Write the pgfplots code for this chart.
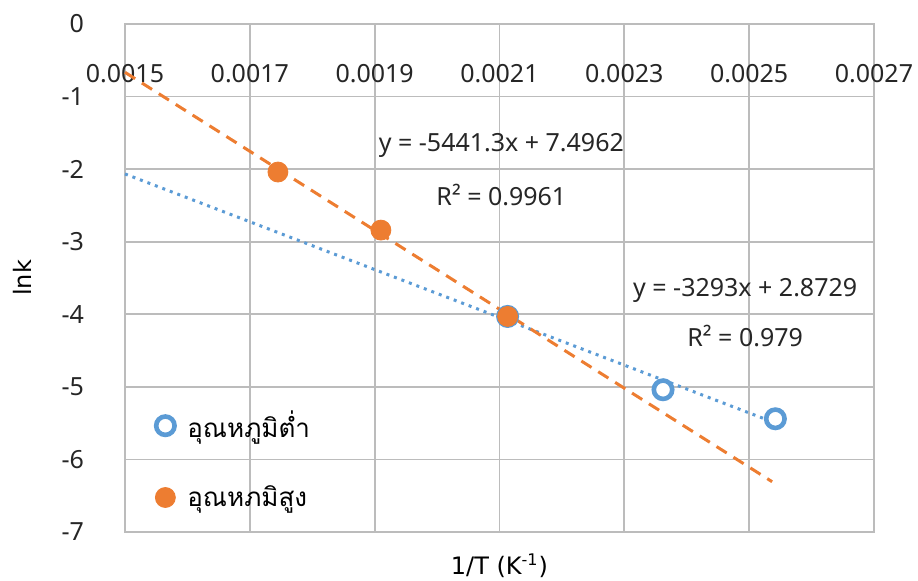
\documentclass[border=0pt]{standalone}
\usepackage{fontspec}
\setmainfont{Noto Sans}
\newfontfamily\thaifont[Script=Thai]{Loma}
\newfontfamily\labfont{DejaVu Sans}
\usepackage{pgfplots}
\pgfplotsset{compat=1.18}
\definecolor{gridc}{RGB}{188,188,188}
\definecolor{bluec}{RGB}{91,155,213}
\definecolor{orangec}{RGB}{237,125,49}
\begin{document}
\begin{tikzpicture}
\useasboundingbox (0,0) rectangle (459pt,290.5pt);
\begin{axis}[
  at={(62.5pt,24.5pt)}, anchor=south west,
  scale only axis, width=374.5pt, height=254pt,
  xmin=0.0015, xmax=0.0027, ymin=-7, ymax=0,
  xtick={0.0015,0.0017,0.0019,0.0021,0.0023,0.0025,0.0027},
  ytick={-7,-6,-5,-4,-3,-2,-1,0},
  scaled x ticks=false,
  grid=major, major grid style={draw=gridc, line width=0.9pt},
  axis line style={draw=gridc, line width=0.9pt},
  major tick length=0pt,
  xticklabel pos=upper,
  /pgf/number format/assume math mode=true,
  tick label style={font=\fontsize{12.5}{15}\selectfont, text=black!85},
  x tick label style={/pgf/number format/.cd, fixed, fixed zerofill, precision=4, /tikz/.cd, anchor=north, yshift=-16.5pt},
  y tick label style={xshift=-17pt},
  xlabel={1/T (K\textsuperscript{-1})},
  ylabel={lnk},
  xlabel style={at={(axis description cs:0.5,-0.066)}, anchor=center, font=\labfont\fontsize{12}{14}\selectfont},
  ylabel style={at={(axis description cs:-0.1375,0.5)}, anchor=center, font=\labfont\fontsize{12}{14}\selectfont},
  legend style={draw=none, fill=none, at={(axis description cs:0.024,0.255)}, anchor=north west,
    font=\thaifont\fontsize{13}{15}\selectfont, row sep=18.5pt},
  legend cell align=left,
  legend image code/.code={\path[draw=none,fill=none] (0pt,-0.1pt) rectangle (17pt,0.1pt); \draw[#1] plot coordinates {(8pt,0pt)};},
  clip=false,
]
% trendlines
\addplot[forget plot, draw=bluec, line width=1.5pt, dash pattern=on 1.5pt off 2.5pt] coordinates {(0.0015,-2.0666) (0.002542,-5.4979)};
\addplot[forget plot, draw=orangec, line width=1.5pt, dash pattern=on 6pt off 4pt] coordinates {(0.0015,-0.6658) (0.0025368,-6.3074)};
% data
\addplot[only marks, mark=*, mark size=4.6pt, mark options={draw=bluec, fill=white, line width=2.3pt}]
  coordinates {(0.002113,-4.03) (0.002362,-5.04) (0.002542,-5.44)};
\addlegendentry{อุณหภูมิต่ำ}
\addplot[only marks, mark=*, mark size=5pt, mark options={draw=orangec, fill=orangec}]
  coordinates {(0.001745,-2.04) (0.00191,-2.84) (0.002113,-4.03)};
\addlegendentry{อุณหภมิสูง}
\node[font=\fontsize{12.5}{15}\selectfont, text=black!85] at (axis cs:0.002103,-1.671) {y = -5441.3x + 7.4962};
\node[font=\fontsize{12.5}{15}\selectfont, text=black!85] at (axis cs:0.002103,-2.356) {R² = 0.9961};
\node[font=\fontsize{12.5}{15}\selectfont, text=black!85] at (axis cs:0.0024936,-3.671) {y = -3293x + 2.8729};
\node[font=\fontsize{12.5}{15}\selectfont, text=black!85] at (axis cs:0.0024936,-4.301) {R² = 0.979};
\end{axis}
\end{tikzpicture}
\end{document}
